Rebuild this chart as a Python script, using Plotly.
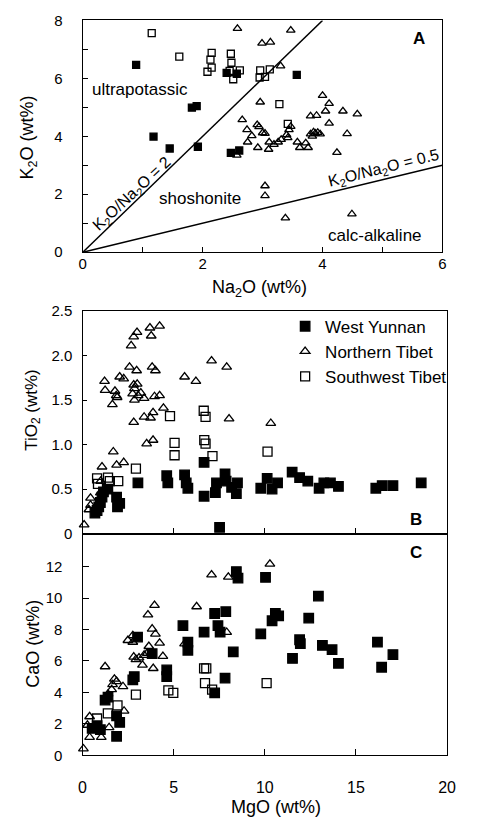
import plotly.graph_objects as go

# ---------------- Panel A : K2O vs Na2O ----------------
wy_na2o = [0.89, 1.18, 1.45, 1.82, 1.90, 1.92, 2.40, 2.57, 2.47, 2.61, 3.57]
wy_k2o = [6.47, 3.99, 3.58, 4.99, 5.04, 3.64, 6.19, 6.16, 3.43, 3.51, 6.12]

sw_na2o = [1.15, 1.61, 2.15, 2.13, 2.15, 2.08, 2.47, 2.48, 2.45, 2.62, 2.51, 2.96, 2.95, 3.04, 3.12, 3.28, 3.42]
sw_k2o = [7.56, 6.75, 6.88, 6.65, 6.37, 6.23, 6.85, 6.54, 6.26, 6.28, 5.97, 6.28, 6.03, 6.05, 6.31, 5.11, 4.43]

nt_na2o = [2.58, 3.47, 2.99, 3.13, 3.30, 2.96, 4.00, 4.11, 4.05, 4.34,
           4.58, 3.80, 3.90, 4.11, 4.41, 4.24, 2.66, 2.74, 2.91, 2.94,
           3.00, 3.04, 2.82, 2.75, 2.92, 3.11, 3.10, 3.19, 3.26, 3.31,
           3.42, 3.44, 3.47, 3.40, 3.58, 3.62, 3.72, 3.76, 3.80, 3.85,
           3.88, 3.92, 3.96, 3.83, 2.57, 3.04, 3.04, 3.38, 4.49]
nt_k2o = [7.72, 7.66, 7.21, 7.25, 6.43, 5.18, 5.41, 5.13, 4.87, 4.87,
          4.77, 4.70, 4.72, 4.45, 4.09, 3.44, 4.57, 4.23, 4.40, 4.33,
          4.12, 4.10, 4.02, 3.80, 3.61, 3.80, 3.55, 3.72, 3.80, 3.89,
          3.95, 4.23, 4.34, 4.05, 3.80, 3.61, 3.77, 3.61, 4.08, 4.15,
          4.10, 4.13, 4.08, 4.00, 3.35, 2.29, 1.95, 1.18, 1.32]

ratio_lines = [2, 0.5]
ratio_labels = ["K<sub>2</sub>O/Na<sub>2</sub>O = 2", "K<sub>2</sub>O/Na<sub>2</sub>O = 0.5"]

# ---------------- Panel B : TiO2 vs MgO ----------------
mgo_b_wy = [0.68, 0.80, 0.89, 0.98, 1.07, 1.15, 1.39, 1.87, 1.92, 2.04,
            3.04, 4.62, 4.68, 5.60, 5.69, 5.78, 6.67, 6.67, 7.29, 7.35,
            7.52, 7.82, 7.88, 8.18, 8.44, 8.50, 9.78, 10.13, 10.40, 10.70,
            11.50, 11.91, 12.36, 12.98, 13.24, 13.60, 14.04, 16.09, 16.44, 17.03,
            18.58]
tio2_wy = [0.23, 0.26, 0.30, 0.35, 0.41, 0.47, 0.50, 0.41, 0.30, 0.34,
           0.57, 0.65, 0.57, 0.66, 0.57, 0.51, 0.80, 0.42, 0.46, 0.57,
           0.07, 0.67, 0.59, 0.52, 0.45, 0.57, 0.51, 0.62, 0.50, 0.57,
           0.69, 0.63, 0.59, 0.51, 0.57, 0.57, 0.53, 0.51, 0.54, 0.54,
           0.57]

mgo_b_nt = [0.09, 0.35, 0.44, 0.44, 0.98, 1.00, 1.07, 1.69, 1.87, 2.26,
            1.21, 1.24, 1.64, 1.78, 1.85, 1.90, 2.04, 2.26, 2.58, 2.97,
            2.67, 2.81, 2.99, 3.70, 3.77, 4.23, 3.82, 4.00, 2.81, 2.75,
            2.85, 3.05, 3.20, 3.38, 3.95, 4.23, 4.44, 2.81, 3.38, 3.73,
            3.87, 3.52, 3.87, 5.60, 6.22, 7.08, 7.91, 8.04, 10.33, 2.85,
            3.00]
tio2_nt = [0.10, 0.27, 0.32, 0.40, 0.46, 0.59, 0.75, 0.92, 0.77, 0.80,
           1.71, 1.61, 1.45, 1.60, 1.55, 1.53, 1.76, 1.74, 1.87, 1.83,
           2.11, 2.21, 2.26, 2.31, 2.22, 2.33, 1.87, 1.83, 1.67, 1.57,
           1.50, 1.55, 1.58, 1.52, 1.54, 1.55, 1.41, 1.25, 1.31, 1.30,
           1.36, 1.01, 1.05, 1.76, 1.71, 1.94, 1.87, 1.29, 1.24, 1.63,
           1.68]

mgo_b_sw = [0.80, 0.85, 1.40, 1.50, 1.96, 2.93, 4.80, 5.05, 5.05, 6.65, 6.75, 6.68, 6.75, 7.13, 10.15]
tio2_sw = [0.62, 0.56, 0.63, 0.59, 0.59, 0.73, 1.32, 1.02, 0.88, 1.38, 1.31, 1.05, 1.01, 0.87, 0.92]

# ---------------- Panel C : CaO vs MgO ----------------
mgo_c_wy = [0.53, 0.80, 0.98, 1.24, 1.40, 1.87, 1.87, 2.04, 2.76, 2.84,
            3.02, 3.82, 4.62, 4.62, 5.51, 5.78, 5.78, 6.67, 7.25, 7.43,
            7.55, 7.86, 8.27, 7.82, 7.25, 8.44, 8.53, 10.04, 9.78, 10.40,
            10.58, 10.76, 12.41, 12.94, 11.91, 11.95, 11.52, 13.16, 13.69, 14.04,
            16.18, 16.41, 17.03]
cao_wy = [1.71, 1.88, 1.63, 3.51, 3.70, 1.21, 2.51, 2.09, 4.80, 5.01,
          7.52, 6.47, 5.43, 5.01, 8.25, 7.20, 6.68, 7.83, 9.02, 8.25,
          7.83, 9.14, 6.58, 4.91, 3.97, 11.69, 11.27, 11.32, 7.72, 8.56,
          9.02, 8.87, 8.73, 10.13, 7.35, 7.10, 6.16, 6.99, 6.72, 5.85,
          7.20, 5.60, 6.41]

mgo_c_nt = [0.05, 0.39, 1.03, 1.46, 0.39, 0.27, 1.24, 1.87, 1.60, 2.28,
            2.22, 2.49, 2.76, 2.76, 2.81, 2.93, 3.29, 3.38, 3.59, 3.95,
            3.82, 4.00, 4.23, 4.41, 3.88, 3.64, 5.60, 6.26, 7.08, 8.00,
            7.91, 10.28, 1.75, 1.65, 1.40, 3.10, 3.55]
cao_nt = [0.42, 1.15, 1.15, 1.77, 2.46, 1.92, 5.64, 4.70, 4.18, 2.82,
          4.38, 7.31, 7.62, 7.20, 6.26, 6.10, 5.74, 6.37, 8.94, 9.54,
          8.04, 7.72, 7.14, 6.30, 5.53, 6.93, 7.10, 9.46, 11.48, 11.34,
          7.83, 12.17, 4.85, 4.50, 3.90, 6.20, 6.50]

mgo_c_sw = [0.80, 1.39, 1.92, 2.93, 4.71, 4.98, 6.67, 6.79, 6.72, 7.11, 10.10]
cao_sw = [2.34, 2.67, 3.17, 3.86, 4.13, 3.97, 5.53, 5.53, 4.59, 4.18, 4.59]

series_names = ["West Yunnan", "Northern Tibet", "Southwest Tibet"]

# ---------------- layout geometry (pixels) ----------------
W, H = 477, 825
FONT = "Liberation Sans, Arial, Helvetica, sans-serif"


def px_x(p):
    return p / W


def px_y(p):
    return 1 - p / H


fig = go.Figure()

sym = {"West Yunnan": "square",
       "Northern Tibet": "triangle-up-open",
       "Southwest Tibet": "square-open"}


def add_pts(x, y, name, xa, ya, size, show):
    fig.add_trace(go.Scatter(
        x=x, y=y, mode="markers", name=name, showlegend=show,
        cliponaxis=False,
        marker=dict(symbol=sym[name], color="black", size=size,
                    line=dict(color="black", width=1.3)),
        xaxis=xa, yaxis=ya))


# Panel A
xmax_a, ymax_a = 6, 8
for r in ratio_lines:
    xe = min(xmax_a, ymax_a / r)
    fig.add_trace(go.Scatter(x=[0, xe], y=[0, r * xe], mode="lines",
                             line=dict(color="black", width=1.5),
                             showlegend=False, xaxis="x", yaxis="y"))
add_pts(nt_na2o, nt_k2o, series_names[1], "x", "y", 7.5, False)
add_pts(sw_na2o, sw_k2o, series_names[2], "x", "y", 7, False)
add_pts(wy_na2o, wy_k2o, series_names[0], "x", "y", 7, False)

# Panel B
add_pts(mgo_b_wy, tio2_wy, series_names[0], "x2", "y2", 9.5, True)
add_pts(mgo_b_nt, tio2_nt, series_names[1], "x2", "y2", 8.5, True)
add_pts(mgo_b_sw, tio2_sw, series_names[2], "x2", "y2", 9, True)

# Panel C
add_pts(mgo_c_nt, cao_nt, series_names[1], "x3", "y3", 8.5, False)
add_pts(mgo_c_sw, cao_sw, series_names[2], "x3", "y3", 9, False)
add_pts(mgo_c_wy, cao_wy, series_names[0], "x3", "y3", 9.5, False)

axbase = dict(showgrid=False, zeroline=False, showline=True, mirror=True,
              linecolor="black", linewidth=1.3, ticks="inside",
              tickcolor="black", tickwidth=1.2, ticklen=5,
              tickfont=dict(family=FONT, size=15, color="black"))

dom_a_x = [px_x(81), px_x(450.7)]
dom_a_y = [px_y(248.3), px_y(11.7)]
dom_bc_x = [px_x(80.7), px_x(455.5)]
dom_b_y = [px_y(535.7), px_y(308.3)]
dom_c_y = [px_y(762), px_y(535.7)]

fig.update_layout(
    width=W, height=H,
    margin=dict(l=0, r=0, t=0, b=0),
    paper_bgcolor="white", plot_bgcolor="white",
    font=dict(family=FONT, color="black"),
    xaxis=dict(axbase, domain=dom_a_x, range=[0, xmax_a], dtick=2, anchor="y",
               ticklabelstandoff=-2,
               minor=dict(dtick=1, ticks="inside", ticklen=5, tickcolor="black", tickwidth=1.2)),
    yaxis=dict(axbase, domain=dom_a_y, range=[0, ymax_a], dtick=2, anchor="x",
               ticklabelstandoff=16,
               minor=dict(dtick=1, ticks="inside", ticklen=5, tickcolor="black", tickwidth=1.2)),
    xaxis2=dict(axbase, domain=dom_bc_x, range=[0, 20], dtick=5, anchor="y2",
                showticklabels=False, ticklen=6),
    yaxis2=dict(axbase, domain=dom_b_y, range=[0, 2.5], tickvals=[0, 0.5, 1, 1.5, 2, 2.5],
                ticktext=["0", "0.5", "1.0", "1.5", "2.0", "2.5"], anchor="x2",
                ticklabelstandoff=6, ticklen=4),
    xaxis3=dict(axbase, domain=dom_bc_x, range=[0, 20], dtick=5, anchor="y3",
                ticklabelstandoff=17, ticklen=6,
                tickfont=dict(family=FONT, size=16, color="black")),
    yaxis3=dict(axbase, domain=dom_c_y, range=[0, 14.1], anchor="x3",
                tickvals=[0, 2, 4, 6, 8, 10, 12],
                ticklabelstandoff=16, ticklen=6),
    legend=dict(x=px_x(289), y=px_y(306), xanchor="left", yanchor="top",
                bgcolor="rgba(0,0,0,0)", borderwidth=0, tracegroupgap=0,
                font=dict(family=FONT, size=17, color="black"),
                itemsizing="trace"),
)


def ann(text, x, y, size=17, angle=0, bold=False):
    if bold:
        text = "<b>" + text + "</b>"
    fig.add_annotation(text=text, xref="paper", yref="paper",
                       x=px_x(x), y=px_y(y), xanchor="center", yanchor="middle",
                       showarrow=False, textangle=angle,
                       font=dict(family=FONT, size=size, color="black"))


# axis titles
ann("K<sub>2</sub>O (wt%)", 25, 131, size=18, angle=-90)
ann("Na<sub>2</sub>O (wt%)", 263, 285, size=18)
ann("TiO<sub>2</sub> (wt%)", 29, 409, size=17, angle=-90)
ann("CaO (wt%)", 29, 648, size=18, angle=-90)
ann("MgO (wt%)", 280, 815, size=18)

# region / line labels in panel A
ann("ultrapotassic", 139.5, 81.7)
ann("shoshonite", 201, 193.3)
ann("calc-alkaline", 381.7, 231.7)
ann(ratio_labels[0], 131.3, 189, size=16, angle=-43)
ann(ratio_labels[1], 391, 162.7, size=16, angle=-14)

# panel letters
ann("A", 427, 30.5, size=17, bold=True)
ann("B", 423.3, 521.7, size=17, bold=True)
ann("C", 423.3, 555, size=17, bold=True)

fig.write_html("out.html",
               config={"displayModeBar": False},
               post_script="document.body.style.margin='0';document.body.style.overflow='hidden';")
